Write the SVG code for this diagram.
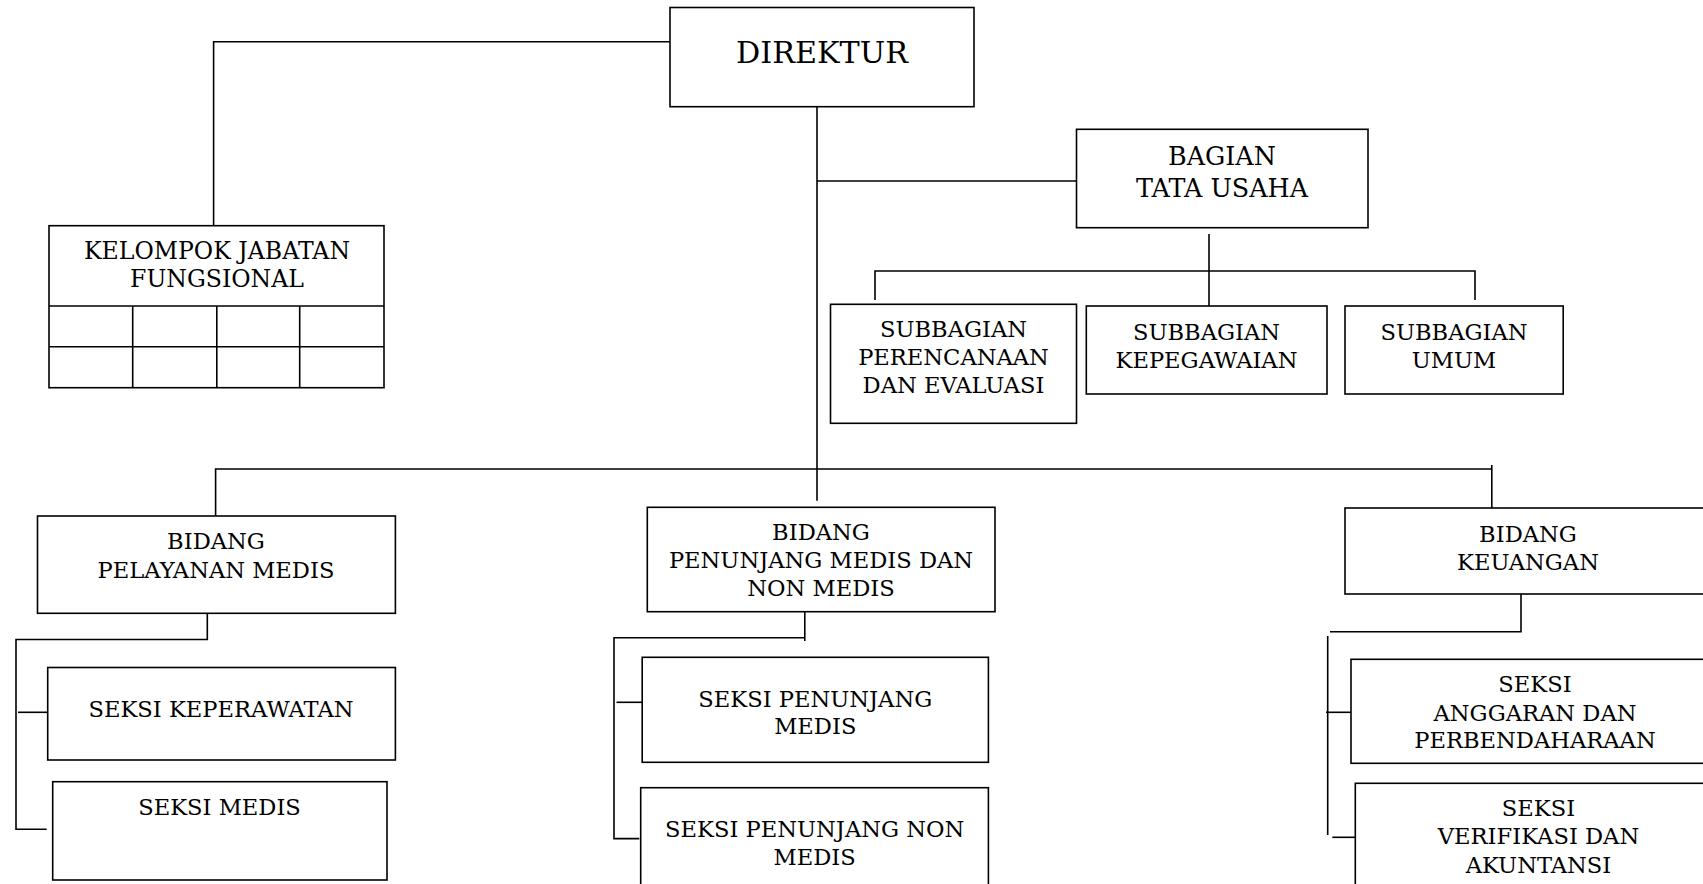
<svg xmlns="http://www.w3.org/2000/svg" width="1703" height="884" viewBox="0 0 1703 884">
<style>
.box{fill:#fff;stroke:#000;stroke-width:1.6}
.ln{fill:none;stroke:#000;stroke-width:1.6}
text{font-family:"DejaVu Serif","Liberation Serif",serif;fill:#000;text-anchor:middle;font-size:22.6px}
.big{font-size:30.2px}
.mid{font-size:25.4px}
.kj{font-size:23.6px}
</style>
<rect width="1703" height="884" fill="#fff"/>
<g id="connectors">
<path class="ln" d="M670,41.7 H213.6 V225.7"/>
<path class="ln" d="M817,106.7 V500.7"/>
<path class="ln" d="M817,181 H1076.5"/>
<path class="ln" d="M1209,234 V306"/>
<path class="ln" d="M875,300 V271 H1475 V300"/>
<path class="ln" d="M215.6,516 V469 H1491"/>
<path class="ln" d="M1491.8,465 V512"/>
<path class="ln" d="M207.3,613.3 V639.5 H16 V829.3 H46.7"/>
<path class="ln" d="M18,712.3 H47.7"/>
<path class="ln" d="M804.8,611.7 V641"/>
<path class="ln" d="M804.8,637.7 H614 V838.6 H639.3"/>
<path class="ln" d="M616.5,702.3 H642.2"/>
<path class="ln" d="M1521,594 V631.7 H1330"/>
<path class="ln" d="M1327.7,636 V835"/>
<path class="ln" d="M1326,712.3 H1351"/>
<path class="ln" d="M1332.3,837.3 H1355.3"/>
</g>
<g id="direktur">
<rect class="box" x="670" y="7.5" width="304" height="99.2"/>
<text class="big" x="822" y="63">DIREKTUR</text>
</g>
<g id="kelompok-jabatan-fungsional">
<rect class="box" x="49" y="225.7" width="335" height="162"/>
<path class="ln" d="M49,306 H384 M49,346.7 H384 M132.7,306 V387.7 M216.8,306 V387.7 M299.7,306 V387.7"/>
<text class="kj" x="217" y="259.3">KELOMPOK JABATAN</text>
<text class="kj" x="217" y="287.3">FUNGSIONAL</text>
</g>
<g id="bagian-tata-usaha">
<rect class="box" x="1076.5" y="129.3" width="291.5" height="98.4"/>
<text class="mid" x="1222" y="165">BAGIAN</text>
<text class="mid" x="1222" y="196.7">TATA USAHA</text>
</g>
<g id="subbagian-perencanaan">
<rect class="box" x="830.5" y="304.3" width="246" height="119"/>
<text x="953.5" y="337.3">SUBBAGIAN</text>
<text x="953.5" y="365">PERENCANAAN</text>
<text x="953.5" y="392.7">DAN EVALUASI</text>
</g>
<g id="subbagian-kepegawaian">
<rect class="box" x="1086.3" y="306" width="240.7" height="88"/>
<text x="1206.5" y="340">SUBBAGIAN</text>
<text x="1206.5" y="367.7">KEPEGAWAIAN</text>
</g>
<g id="subbagian-umum">
<rect class="box" x="1345" y="306" width="218.2" height="88"/>
<text x="1454" y="340">SUBBAGIAN</text>
<text x="1454" y="367.7">UMUM</text>
</g>
<g id="bidang-pelayanan-medis">
<rect class="box" x="37.5" y="516" width="357.9" height="97.3"/>
<text x="216" y="549.3">BIDANG</text>
<text x="216" y="578.3">PELAYANAN MEDIS</text>
</g>
<g id="seksi-keperawatan">
<rect class="box" x="47.7" y="667.5" width="347.7" height="92.5"/>
<text x="221" y="716.7">SEKSI KEPERAWATAN</text>
</g>
<g id="seksi-medis">
<rect class="box" x="52.7" y="781.7" width="334.3" height="98.3"/>
<text x="219.5" y="815">SEKSI MEDIS</text>
</g>
<g id="bidang-penunjang">
<rect class="box" x="647.3" y="507.3" width="347.7" height="104.4"/>
<text x="821" y="540">BIDANG</text>
<text x="821" y="568.3">PENUNJANG MEDIS DAN</text>
<text x="821" y="595.7">NON MEDIS</text>
</g>
<g id="seksi-penunjang-medis">
<rect class="box" x="642.2" y="657.3" width="346.2" height="105"/>
<text x="815.3" y="706.7">SEKSI PENUNJANG</text>
<text x="815.3" y="734">MEDIS</text>
</g>
<g id="seksi-penunjang-non-medis">
<rect class="box" x="640.7" y="787.7" width="347.7" height="120"/>
<text x="814.7" y="837.3">SEKSI PENUNJANG NON</text>
<text x="814.7" y="865">MEDIS</text>
</g>
<g id="bidang-keuangan">
<rect class="box" x="1345" y="508" width="380" height="86"/>
<text x="1528" y="541.7">BIDANG</text>
<text x="1528" y="570">KEUANGAN</text>
</g>
<g id="seksi-anggaran">
<rect class="box" x="1351" y="659.3" width="380" height="104"/>
<text x="1535" y="691.7">SEKSI</text>
<text x="1535" y="720.7">ANGGARAN DAN</text>
<text x="1535" y="748.3">PERBENDAHARAAN</text>
</g>
<g id="seksi-verifikasi">
<rect class="box" x="1355.3" y="783.3" width="380" height="120"/>
<text x="1538.5" y="816">SEKSI</text>
<text x="1538.5" y="844.3">VERIFIKASI DAN</text>
<text x="1538.5" y="872.7">AKUNTANSI</text>
</g>
</svg>
